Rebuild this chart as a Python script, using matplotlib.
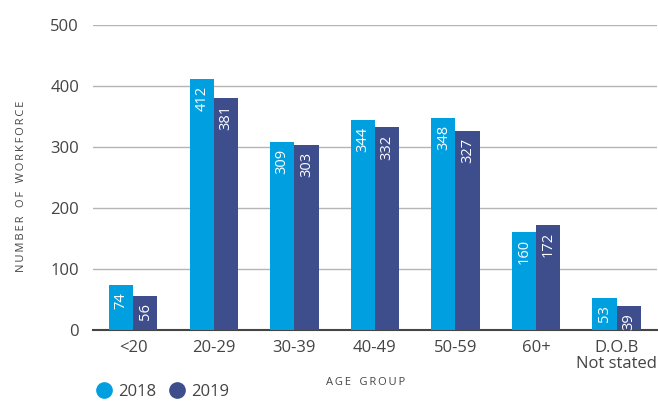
import matplotlib
matplotlib.use("Agg")
import matplotlib.pyplot as plt
import numpy as np
from matplotlib.lines import Line2D

plt.rcParams['font.family'] = ['Open Sans', 'DejaVu Sans']

# data
groups = ['<20', '20-29', '30-39', '40-49', '50-59', '60+', 'D.O.B\nNot stated']
v2018 = [74, 412, 309, 344, 348, 160, 53]
v2019 = [56, 381, 303, 332, 327, 172, 39]
years = ['2018', '2019']

c18 = '#00A0E0'
c19 = '#3E4D8C'
txt = '#444444'

def spaced(s):
    # crude letter spacing with thin spaces
    return '\u2009'.join(s).replace('\u2009 \u2009', '\u2009\u2009 \u2009')

fig = plt.figure(figsize=(6.58, 4.01), dpi=100)
ax = fig.add_axes([0.1413, 0.177, 0.857, 0.7607])

x = np.arange(len(groups))
w = 0.30
b1 = ax.bar(x - w/2, v2018, w, color=c18, zorder=3)
b2 = ax.bar(x + w/2, v2019, w, color=c19, zorder=3)

# value labels inside the bars, rotated
for bars, vals in ((b1, v2018), (b2, v2019)):
    for r, v in zip(bars, vals):
        ax.annotate(str(v), (r.get_x() + r.get_width()/2, v),
                    xytext=(0, -5), textcoords='offset points',
                    rotation=90, ha='center', va='top',
                    color='white', fontsize=10.5, zorder=4)

ax.set_xlim(-0.5, 6.5)
ax.set_ylim(0, 500)
ax.set_yticks(range(0, 501, 100))
ax.set_xticks(x)
ax.set_xticklabels(groups)
ax.yaxis.grid(True, color='#b5b5b5', linewidth=1)
ax.set_axisbelow(True)
for s in ['top', 'right', 'left']:
    ax.spines[s].set_visible(False)
ax.spines['bottom'].set_color('#444444')
ax.spines['bottom'].set_linewidth(1.5)
ax.tick_params(axis='both', length=0, labelsize=12, colors=txt)
ax.tick_params(axis='y', pad=10)
ax.tick_params(axis='x', pad=7)
for lab in ax.get_xticklabels():
    lab.set_linespacing(1.0)

fig.text(0.032, 0.535, spaced('NUMBER OF WORKFORCE'),
         rotation=90, ha='center', va='center', fontsize=8, color=txt)
fig.text(0.555, 0.047, spaced('AGE GROUP'),
         ha='center', va='center', fontsize=8, color=txt)

handles = [Line2D([], [], marker='o', linestyle='', markersize=11, color=c)
           for c in (c18, c19)]
fig.legend(handles, years, loc='lower left', bbox_to_anchor=(0.123, -0.035),
           ncol=2, frameon=False, fontsize=12, handletextpad=0.35,
           columnspacing=0.7, labelcolor=txt, handlelength=1.0)

fig.savefig('out.png', dpi=100)
